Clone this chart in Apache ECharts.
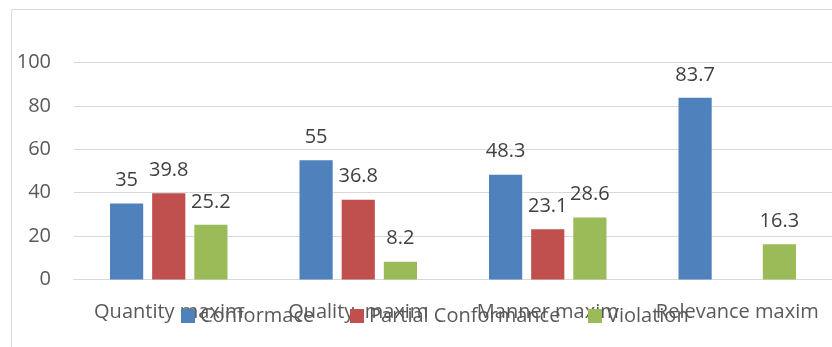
<!DOCTYPE html>
<html>
<head>
<meta charset="utf-8">
<style>
  html, body { margin: 0; padding: 0; background: #ffffff; }
  #chart { width: 832px; height: 347px; }
</style>
<script src="https://cdn.jsdelivr.net/npm/echarts@6/dist/echarts.min.js"></script>
</head>
<body>
<div id="chart"></div>
<script>
// Maxim categories and the share (%) of each response type
const categories = ['Quantity maxim', 'Quality  maxim', 'Manner maxim', 'Relevance maxim'];
const conformace = [35, 55, 48.3, 83.7];
const partialConformance = [39.8, 36.8, 23.1, null];
const violation = [25.2, 8.2, 28.6, 16.3];
const yTicks = [0, 20, 40, 60, 80, 100];

const FONT = '"Open Sans", "Noto Sans", sans-serif';
const TEXT = '#595959';

const chart = echarts.init(document.getElementById('chart'), null, { renderer: 'canvas' });

function barSeries(name, data, color) {
  return {
    name: name,
    type: 'bar',
    data: data,
    barGap: '27%',
    barCategoryGap: '38%',
    itemStyle: { color: color },
    label: {
      show: true,
      position: 'top',
      distance: 13,
      color: '#404040',
      fontSize: 20,
      fontFamily: FONT
    }
  };
}

function legendAt(name, left) {
  return {
    data: [name],
    left: left,
    top: 301,
    itemWidth: 14,
    itemHeight: 14,
    itemGap: 7,
    icon: 'rect',
    textStyle: { color: TEXT, fontSize: 20, fontFamily: FONT }
  };
}

chart.setOption({
  animation: false,
  backgroundColor: '#ffffff',
  graphic: [{
    type: 'rect',
    shape: { x: 11.5, y: 9.5, width: 900, height: 400 },
    style: { fill: null, stroke: '#d9d9d9', lineWidth: 1 },
    silent: true,
    z: -1
  }],
  grid: { left: 74, top: 62.5, width: 762, height: 217, containLabel: false },
  legend: [
    legendAt('Conformace', 176),
    legendAt('Partial Conformance', 345),
    legendAt('Violation', 583)
  ],
  xAxis: {
    type: 'category',
    data: categories,
    axisLine: { show: true, lineStyle: { color: '#d9d9d9', width: 1 } },
    axisTick: { show: false },
    axisLabel: { color: TEXT, fontSize: 20, fontFamily: FONT, margin: 23, interval: 0 }
  },
  yAxis: {
    type: 'value',
    min: yTicks[0],
    max: yTicks[yTicks.length - 1],
    interval: yTicks[1] - yTicks[0],
    axisLine: { show: false },
    axisTick: { show: false },
    splitLine: { lineStyle: { color: '#d9d9d9', width: 1 } },
    axisLabel: { color: TEXT, fontSize: 20, fontFamily: FONT, margin: 23 }
  },
  series: [
    barSeries('Conformace', conformace, '#4f81bd'),
    barSeries('Partial Conformance', partialConformance, '#c0504d'),
    barSeries('Violation', violation, '#9bbb59')
  ]
});
</script>
</body>
</html>
